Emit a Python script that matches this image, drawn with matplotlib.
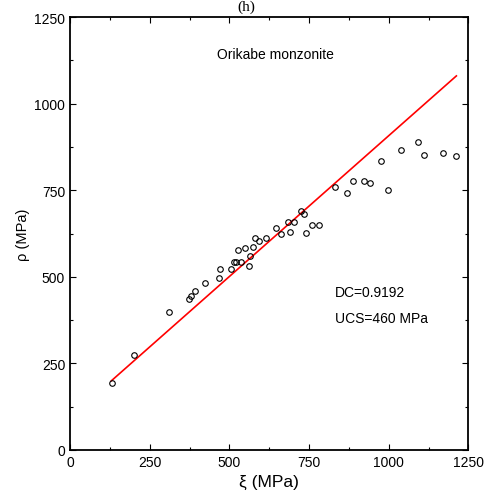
import matplotlib
matplotlib.use("Agg")
import matplotlib.pyplot as plt
from matplotlib.ticker import MultipleLocator

plt.rcParams['font.family'] = ['Liberation Sans', 'DejaVu Sans']

# measured points (xi, rho) in MPa
xi = [132, 200, 312, 374, 381, 391, 423, 468, 470, 504, 515, 522, 535,
      527, 561, 565, 548, 573, 581, 594, 615, 645, 662, 685, 704, 691,
      726, 733, 740, 760, 781, 830, 868, 889, 923, 940, 975, 997, 1039,
      1091, 1112, 1170, 1210]
rho = [193, 274, 397, 436, 445, 459, 481, 496, 523, 522, 543, 543, 542,
       577, 530, 559, 584, 586, 611, 604, 612, 640, 624, 657, 657, 628,
       689, 680, 626, 650, 651, 758, 743, 777, 778, 770, 833, 752, 866,
       889, 853, 858, 848]

# fitted line end points
fit_x = [130, 1212]
fit_y = [200, 1080]

fig = plt.figure(figsize=(4.92, 5.02), dpi=100)
ax = fig.add_axes([0.1423, 0.1016, 0.8099, 0.8625])

ax.plot(fit_x, fit_y, color='red', lw=1.2, zorder=2)
ax.plot(xi, rho, 'o', mfc='none', mec='black', ms=4, mew=0.8, zorder=3)

ax.set_xlim(0, 1250)
ax.set_ylim(0, 1250)
ax.xaxis.set_major_locator(MultipleLocator(250))
ax.yaxis.set_major_locator(MultipleLocator(250))
ax.xaxis.set_minor_locator(MultipleLocator(125))
ax.yaxis.set_minor_locator(MultipleLocator(125))
ax.tick_params(which='both', direction='in', top=True, right=True,
               labelsize=10, width=0.8)
ax.tick_params(which='major', length=4)
ax.tick_params(which='minor', length=2.5)
for sp in ax.spines.values():
    sp.set_linewidth(1.3)

ax.set_xlabel('ξ (MPa)', fontsize=12.5, labelpad=4)
ax.set_ylabel('ρ (MPa)', fontsize=10.5, labelpad=3)

ax.text(0.37, 0.905, 'Orikabe monzonite', transform=ax.transAxes, fontsize=10)
ax.text(0.664, 0.355, 'DC=0.9192', transform=ax.transAxes, fontsize=10)
ax.text(0.664, 0.295, 'UCS=460 MPa', transform=ax.transAxes, fontsize=10)

fig.text(0.5, 0.999, '(h)', ha='center', va='top', fontsize=11,
         family='Liberation Serif')

fig.savefig('out.png', dpi=100)
